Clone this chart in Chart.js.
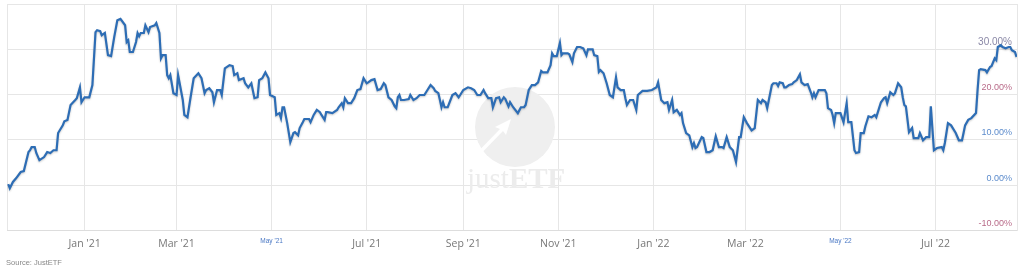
<!DOCTYPE html>
<html>
<head>
<meta charset="utf-8">
<script src="https://cdn.jsdelivr.net/npm/chart.js@4"></script>
<style>
  html, body { margin: 0; padding: 0; background: #fff; }
  #wrap { width: 1024px; height: 273px; position: relative; }
</style>
</head>
<body>
<div id="wrap"><canvas id="perfChart"></canvas></div>
<script>
// days counted from 2021-01-01, performance in %
const days = [
  -49, -48, -46, -44, -41, -39, -36, -35, -34, -32, -31, -29, -26, -24, -22, -20, -18, -17, -14, -13,
  -11, -9, -6, -5, -3, -2, 0, 3, 5, 7, 8, 10, 11, 13, 15, 17, 19, 21, 23, 26,
  27, 28, 29, 31, 33, 34, 35, 36, 38, 39, 41, 42, 45, 46, 48, 49, 50, 52, 53, 54,
  55, 57, 59, 60, 63, 64, 66, 68, 70, 73, 75, 77, 78, 80, 82, 83, 85, 87, 88, 90,
  93, 95, 96, 98, 99, 102, 103, 105, 107, 109, 111, 112, 114, 116, 118, 119, 122, 123, 125, 126,
  127, 128, 130, 132, 134, 135, 137, 138, 140, 141, 144, 145, 147, 149, 151, 152, 154, 155, 156, 159,
  162, 163, 165, 166, 167, 169, 171, 173, 175, 177, 179, 181, 182, 184, 186, 188, 190, 192, 193, 195,
  197, 199, 200, 201, 202, 203, 205, 208, 209, 211, 213, 215, 218, 220, 222, 224, 225, 227, 228, 229,
  230, 231, 233, 236, 238, 240, 241, 243, 246, 248, 250, 252, 254, 256, 257, 259, 261, 262, 264, 266,
  267, 269, 270, 272, 273, 275, 278, 280, 282, 283, 285, 287, 289, 291, 293, 294, 297, 299, 300, 301,
  303, 305, 306, 307, 310, 311, 313, 314, 316, 318, 320, 322, 323, 326, 327, 329, 330, 331, 333, 335,
  337, 339, 341, 342, 344, 346, 347, 348, 350, 352, 354, 355, 358, 361, 364, 367, 368, 370, 372, 374,
  375, 377, 378, 380, 382, 383, 384, 386, 388, 390, 391, 392, 393, 396, 397, 399, 401, 403, 405, 407,
  409, 410, 412, 414, 416, 418, 420, 421, 423, 425, 428, 430, 432, 434, 435, 437, 438, 441, 442, 444,
  445, 446, 448, 449, 450, 452, 454, 455, 457, 459, 460, 462, 464, 466, 467, 468, 469, 471, 473, 475,
  476, 477, 479, 480, 481, 482, 484, 485, 487, 489, 490, 492, 494, 495, 497, 498, 500, 501, 503, 505,
  507, 508, 511, 513, 514, 515, 517, 519, 520, 522, 524, 525, 526, 527, 529, 531, 532, 533, 535, 536,
  538, 540, 542, 543, 545, 547, 550, 551, 552, 554, 556, 559, 561, 563, 564, 565, 567, 569, 572, 573,
  574, 575, 578, 579, 581, 582, 584, 585, 586, 588, 589, 591, 593, 594, 595, 597, 598
];
const values = [
  0.2, -0.7, 0.7, 1.5, 2.9, 3.1, 7.3, 7.7, 8.4, 8.4, 7.1, 5.5, 6.2, 7.3, 7.1, 7.7, 7.7, 11.5, 13.2, 14.1,
  14.4, 17.7, 18.8, 19.2, 21.6, 18.3, 19.4, 19.4, 22.1, 33.8, 34.2, 34.0, 33.1, 33.6, 28.7, 28.5, 32.7, 36.4, 36.7, 35.3,
  31.6, 32.0, 29.4, 29.4, 31.6, 33.6, 32.9, 33.6, 33.6, 35.3, 33.8, 34.9, 35.3, 35.8, 33.6, 28.0, 28.7, 28.7, 24.3, 23.6,
  24.3, 20.3, 19.9, 24.3, 18.8, 15.5, 15.0, 19.4, 23.6, 24.7, 23.6, 20.3, 21.0, 21.4, 20.5, 18.3, 21.0, 21.0, 19.9, 25.8,
  26.5, 26.3, 24.3, 24.7, 23.2, 23.6, 22.5, 21.6, 22.5, 19.2, 19.4, 23.2, 23.6, 24.9, 23.6, 19.9, 19.4, 15.5, 15.9, 14.8,
  17.2, 17.2, 13.7, 9.5, 11.5, 11.7, 11.0, 12.6, 13.9, 14.6, 14.6, 13.9, 15.5, 16.6, 16.1, 15.5, 14.4, 16.1, 16.1, 15.9,
  16.6, 17.2, 18.1, 17.2, 19.2, 18.1, 18.1, 19.2, 21.0, 21.2, 23.6, 22.5, 22.7, 23.2, 23.4, 21.0, 21.2, 22.5, 22.1, 19.4,
  18.8, 17.4, 17.0, 19.4, 19.9, 18.8, 18.8, 19.0, 19.9, 18.8, 19.2, 19.9, 19.9, 21.0, 22.1, 21.4, 20.8, 20.3, 18.8, 17.2,
  18.3, 17.2, 17.2, 19.9, 20.3, 19.4, 19.9, 21.0, 21.6, 21.4, 21.0, 19.9, 19.9, 21.0, 20.3, 19.2, 19.2, 17.2, 19.2, 19.4,
  18.3, 19.4, 19.0, 17.4, 18.3, 17.2, 15.9, 17.2, 17.2, 17.7, 21.0, 22.1, 22.1, 22.7, 25.2, 24.9, 24.9, 26.5, 29.1, 28.5,
  28.5, 31.4, 28.7, 29.1, 29.1, 28.9, 27.2, 29.1, 30.5, 30.5, 30.2, 28.7, 30.0, 30.0, 28.7, 28.5, 25.0, 25.4, 24.7, 22.5,
  19.9, 19.4, 23.8, 21.6, 21.0, 21.0, 19.2, 17.7, 18.8, 18.8, 16.6, 19.9, 20.8, 20.8, 21.0, 21.6, 22.7, 18.8, 18.1, 18.3,
  16.6, 18.8, 16.1, 16.6, 15.5, 15.9, 13.7, 11.5, 11.0, 8.4, 9.3, 8.2, 8.4, 10.6, 10.4, 7.3, 7.3, 7.7, 10.8, 8.4,
  8.4, 8.2, 10.6, 8.4, 7.7, 5.1, 10.6, 10.6, 15.0, 13.7, 12.1, 12.6, 18.8, 18.1, 18.8, 18.3, 17.0, 22.1, 22.5, 22.5,
  21.9, 22.7, 22.5, 21.6, 21.6, 22.1, 22.3, 22.7, 23.2, 24.5, 22.7, 22.1, 22.3, 20.5, 19.4, 20.3, 19.4, 21.0, 21.0, 21.0,
  20.3, 17.0, 16.6, 15.5, 13.7, 15.9, 15.9, 15.9, 13.9, 18.1, 13.9, 13.9, 7.7, 7.1, 7.3, 11.5, 11.5, 13.0, 15.2, 15.0,
  15.5, 15.0, 18.3, 19.2, 19.4, 18.1, 20.5, 19.9, 20.3, 22.5, 21.6, 19.4, 17.7, 17.4, 11.7, 12.6, 10.4, 10.4, 10.4, 11.5,
  9.9, 10.6, 10.6, 17.4, 7.7, 8.2, 8.4, 7.7, 9.3, 13.7, 13.2, 11.5, 9.9, 9.9, 11.5, 13.2, 14.4, 14.8, 15.9, 21.0,
  25.4, 25.6, 25.4, 24.9, 26.1, 26.3, 28.0, 27.6, 30.5, 30.9, 30.5, 30.2, 30.5, 30.5, 29.8, 29.4, 28.3
];

// month gridlines (days from 2021-01-01) and their labels
const monthTickDays = [0, 59, 120, 181, 243, 304, 365, 424, 485, 546];
const monthTickLabels = ["Jan '21", "Mar '21", "May '21", "Jul '21", "Sep '21", "Nov '21", "Jan '22", "Mar '22", "May '22", "Jul '22"];
const smallMonths = ["May '21", "May '22"];

const xMin = -49.8;
const xMax = 598.3;

const yTickColors = { "30": "#8a88a6", "20": "#b86a88", "10": "#5b8bcc", "0": "#5b8bcc", "-10": "#b86a88" };

const points = days.map((d, i) => ({ x: d, y: values[i] }));

function isSmallMonth(c) {
  if (!c || !c.tick) return false;
  const i = monthTickDays.indexOf(c.tick.value);
  return i >= 0 && smallMonths.includes(monthTickLabels[i]);
}

// faint justETF logo behind the line
const watermark = {
  id: 'watermark',
  beforeDatasetsDraw(chart) {
    const ctx = chart.ctx;
    ctx.save();
    ctx.fillStyle = '#efefef';
    ctx.beginPath();
    ctx.arc(515, 127, 40, 0, Math.PI * 2);
    ctx.fill();
    // white arrow across the circle
    ctx.fillStyle = '#ffffff';
    ctx.beginPath();
    ctx.moveTo(466, 164);
    ctx.lineTo(500, 129);
    ctx.lineTo(495, 127);
    ctx.lineTo(511, 119);
    ctx.lineTo(506, 135);
    ctx.lineTo(503, 131);
    ctx.lineTo(470, 165);
    ctx.closePath();
    ctx.fill();
    ctx.fillStyle = '#ececec';
    ctx.textBaseline = 'alphabetic';
    ctx.font = '29px "Liberation Serif"';
    ctx.fillText('just', 467, 188);
    const w = ctx.measureText('just').width;
    ctx.font = 'bold 29px "Liberation Serif"';
    ctx.fillText('ETF', 467 + w, 188);
    ctx.restore();
  }
};

const lineShadow = {
  id: 'lineShadow',
  beforeDatasetDraw(chart) {
    const ctx = chart.ctx;
    ctx.save();
    ctx.shadowColor = 'rgba(0, 0, 0, 0.22)';
    ctx.shadowBlur = 2;
    ctx.shadowOffsetY = 1;
  },
  afterDatasetDraw(chart) {
    chart.ctx.restore();
  }
};

new Chart(document.getElementById('perfChart'), {
  type: 'line',
  data: {
    datasets: [{
      data: points,
      borderColor: '#2d6db5',
      borderWidth: 2.2,
      pointRadius: 0,
      tension: 0,
      fill: false
    }]
  },
  options: {
    responsive: true,
    maintainAspectRatio: false,
    animation: false,
    layout: { padding: { left: 4, right: 5, top: 4, bottom: 6 } },
    plugins: {
      legend: { display: false },
      tooltip: { enabled: false },
      subtitle: {
        display: true,
        text: ' Source: JustETF',
        position: 'bottom',
        align: 'start',
        color: '#888',
        font: { family: 'Liberation Sans', size: 7.5 },
        padding: { top: 1, bottom: 0 }
      }
    },
    scales: {
      x: {
        type: 'linear',
        min: xMin,
        max: xMax,
        afterBuildTicks: (scale) => {
          scale.ticks = [xMin].concat(monthTickDays, [xMax]).map(v => ({ value: v }));
        },
        grid: { color: '#e6e6e6', drawTicks: false },
        border: { color: '#dddddd' },
        ticks: {
          autoSkip: false,
          maxRotation: 0,
          padding: 7,
          callback: (value) => {
            const i = monthTickDays.indexOf(value);
            return i >= 0 ? monthTickLabels[i] : '';
          },
          color: (c) => isSmallMonth(c) ? '#4a78c4' : '#777',
          font: (c) => isSmallMonth(c)
            ? { family: 'Liberation Sans', size: 6.5 }
            : { family: 'Open Sans', size: 10.5 }
        }
      },
      y: {
        type: 'linear',
        position: 'right',
        min: -10,
        max: 40,
        grid: { color: '#e6e6e6', drawTicks: false },
        border: { color: '#e6e6e6' },
        ticks: {
          stepSize: 10,
          mirror: true,
          padding: -5,
          labelOffset: -7,
          callback: (v) => v === 40 ? '' : v.toFixed(2) + '%',
          color: (c) => (c && c.tick && yTickColors[String(c.tick.value)]) || '#888',
          font: (c) => ({ family: 'Liberation Sans', size: (c && c.tick && c.tick.value === 30) ? 10 : 9 })
        }
      }
    }
  },
  plugins: [watermark, lineShadow]
});
</script>
</body>
</html>
